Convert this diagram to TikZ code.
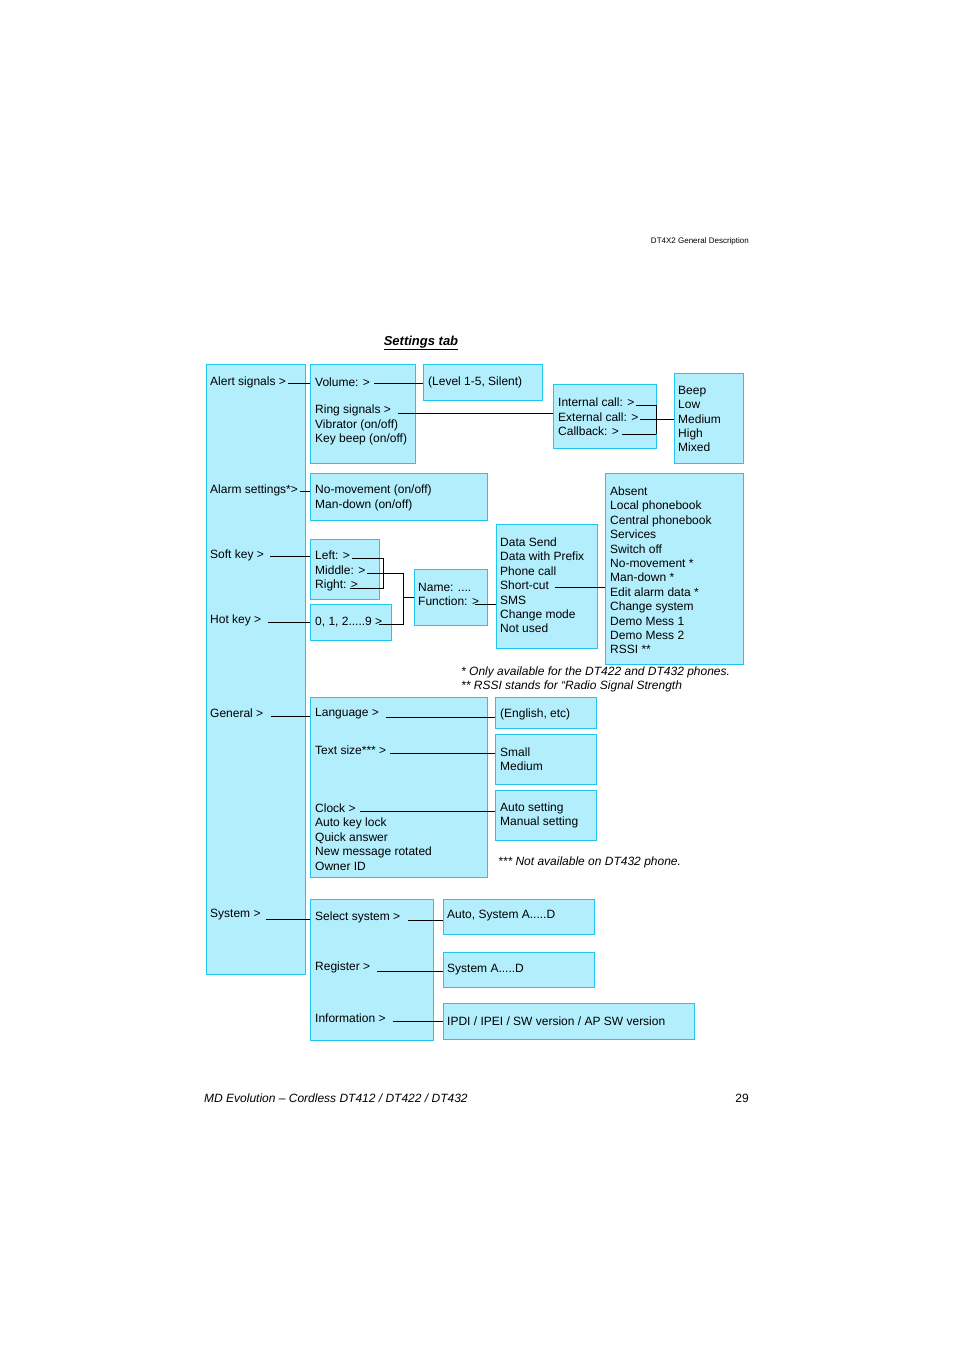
\documentclass[tikz,border=0pt]{standalone}
\usepackage{fontspec}
\setmainfont{Liberation Sans}
\definecolor{bfill}{HTML}{B3EEFD}
\definecolor{bdraw}{HTML}{22C4F0}
\begin{document}
\begin{tikzpicture}[x=1pt,y=-1pt,
  box/.style={fill=bfill,draw=bdraw,line width=1pt},
  lbl/.style={anchor=west,inner sep=0pt,align=left,font=\fontsize{12}{14.4}\selectfont},
  con/.style={line width=0.8pt,black}]
\useasboundingbox (0,0) rectangle (954,1350);
% boxes
\draw[box] (206,364) rectangle (305,974);
\draw[box] (310,364) rectangle (415,463);
\draw[box] (423,364) rectangle (542,400);
\draw[box] (553,384) rectangle (656,448);
\draw[box] (674,373) rectangle (743,463);
\draw[box] (310,473) rectangle (487,520);
\draw[box] (605,473) rectangle (743,664);
\draw[box] (310,539) rectangle (379,599);
\draw[box] (310,604) rectangle (391,640);
\draw[box] (414,569) rectangle (487,625);
\draw[box] (496,524) rectangle (597,648);
\draw[box] (310,697) rectangle (487,877);
\draw[box] (495,697) rectangle (596,728);
\draw[box] (495,734) rectangle (596,784);
\draw[box] (495,790) rectangle (596,840);
\draw[box] (310,899) rectangle (433,1040);
\draw[box] (443,899) rectangle (594,934);
\draw[box] (443,952) rectangle (594,987);
\draw[box] (443,1003) rectangle (694,1039);
% connectors
\draw[con] (288,383) -- (310,383);
\draw[con] (374,383) -- (423,383);
\draw[con] (398,413) -- (553,413);
\draw[con] (636,405) -- (656,405) (640,419) -- (656,419) (622,434) -- (656,434);
\draw[con] (656,405) -- (656,434);
\draw[con] (656,419) -- (674,419);
\draw[con] (300,491) -- (310,491);
\draw[con] (270,556) -- (310,556);
\draw[con] (352,558) -- (383,558) -- (383,588) -- (350,588);
\draw[con] (367,573) -- (403,573) -- (403,624) -- (379,624);
\draw[con] (403,597) -- (414,597);
\draw[con] (268,622) -- (310,622);
\draw[con] (475,604) -- (496,604);
\draw[con] (555,587) -- (605,587);
\draw[con] (271,716) -- (310,716);
\draw[con] (386,717) -- (495,717);
\draw[con] (390,753) -- (495,753);
\draw[con] (360,811) -- (495,811);
\draw[con] (266,919) -- (310,919);
\draw[con] (408,920) -- (443,920);
\draw[con] (377,971) -- (443,971);
\draw[con] (393,1021) -- (443,1021);
% texts
\node[lbl] (t1) at (210,382) {Alert signals >};
\node[lbl] (t2) at (210,490) {Alarm settings*>};
\node[lbl] (t3) at (210,555) {Soft key >};
\node[lbl] (t4) at (210,620) {Hot key >};
\node[lbl] (t5) at (210,713) {General >};
\node[lbl] (t6) at (210,915) {System >};
\node[lbl] (t7) at (315,382) {Volume: >};
\node[lbl] (t8) at (315,425) {Ring signals >\\Vibrator (on/off)\\Key beep (on/off)};
\node[lbl] (t9) at (428,382) {(Level 1-5, Silent)};
\node[lbl] (t10) at (558,417) {Internal call: >\\External call: >\\Callback: >};
\node[lbl] (t11) at (678,419) {Beep\\Low\\Medium\\High\\Mixed};
\node[lbl] (t12) at (315,498) {No-movement (on/off)\\Man-down (on/off)};
\node[lbl] (t13) at (610,570.5) {Absent\\Local phonebook\\Central phonebook\\Services\\Switch off\\No-movement *\\Man-down *\\Edit alarm data *\\Change system\\Demo Mess 1\\Demo Mess 2\\RSSI **};
\node[lbl] (t14) at (315,571) {Left: >\\Middle: >\\Right: >};
\node[lbl] (t15) at (315,622) {0, 1, 2.....9 >};
\node[lbl] (t16) at (418,594.5) {Name: ....\\Function: >};
\node[lbl] (t17) at (500,585.5) {Data Send\\Data with Prefix\\Phone call\\Short-cut\\SMS\\Change mode\\Not used};
\node[lbl] (t18) at (315,714) {Language >};
\node[lbl] (t19) at (315,750) {Text size*** >};
\node[lbl] (t20) at (315,837) {Clock >\\Auto key lock\\Quick answer\\New message rotated\\Owner ID};
\node[lbl] (t21) at (500,714) {(English, etc)};
\node[lbl] (t22) at (500,759) {Small\\Medium};
\node[lbl] (t23) at (500,815.5) {Auto setting\\Manual setting};
\node[lbl] (t24) at (315,917) {Select system >};
\node[lbl] (t25) at (315,967) {Register >};
\node[lbl] (t26) at (315,1018) {Information >};
\node[lbl] (t27) at (447,916) {Auto, System A.....D};
\node[lbl] (t28) at (447,970) {System A.....D};
\node[lbl] (t29) at (447,1021) {IPDI / IPEI / SW version / AP SW version};
\node[lbl,font=\itshape\fontsize{12}{14}\selectfont] (f1) at (461,679) {* Only available for the DT422 and DT432 phones.\\** RSSI stands for “Radio Signal Strength};
\node[lbl,font=\itshape\fontsize{12}{14}\selectfont] (f2) at (498,862) {*** Not available on DT432 phone.};
\node[inner sep=0pt,anchor=east,font=\fontsize{8}{9}\selectfont] (h) at (749,241) {DT4X2 General Description};
\node[inner sep=0pt,font=\bfseries\itshape\fontsize{13}{15}\selectfont] (st) at (421,343) {\underline{Settings tab}};
\node[lbl,font=\itshape\fontsize{12}{14}\selectfont] (ft) at (204,1098) {MD Evolution – Cordless DT412 / DT422 / DT432};
\node[inner sep=0pt,anchor=east,font=\fontsize{12}{14}\selectfont] (pg) at (749,1098) {29};
\end{tikzpicture}
\end{document}
